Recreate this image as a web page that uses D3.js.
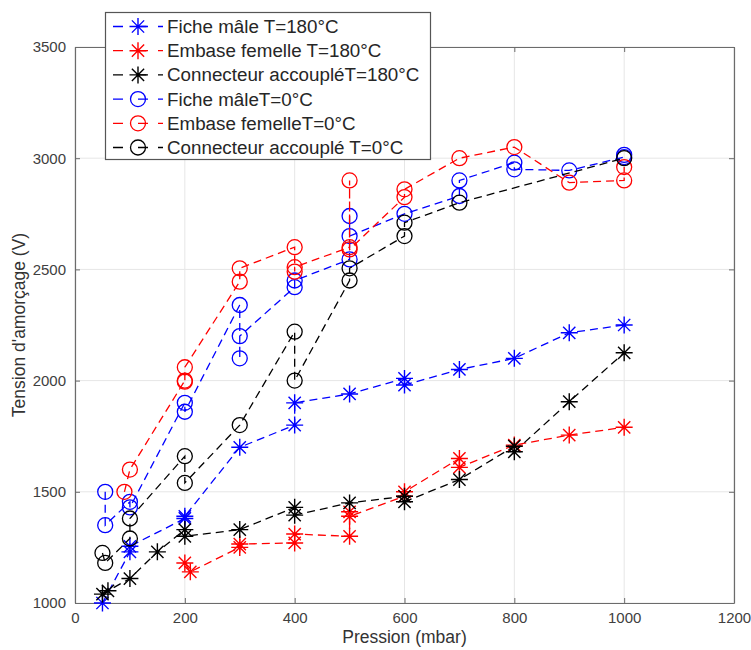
<!DOCTYPE html>
<html><head><meta charset="utf-8">
<script src="https://cdn.jsdelivr.net/npm/d3@7/dist/d3.min.js"></script>
<style>
body{margin:0;background:#fff}
text{font-family:"Liberation Sans",Arial,Helvetica,sans-serif}
</style>
</head><body>
<svg id="chart" width="751" height="650"></svg>
<script>
// ---------- data ----------
const xTicks = [0, 200, 400, 600, 800, 1000, 1200];
const yTicks = [1000, 1500, 2000, 2500, 3000, 3500];
const xLabel = "Pression (mbar)";
const yLabel = "Tension d'amorçage (V)";

const seriesNames = [
  "Fiche mâle T=180°C",
  "Embase femelle T=180°C",
  "Connecteur accoupléT=180°C",
  "Fiche mâleT=0°C",
  "Embase femelleT=0°C",
  "Connecteur accouplé T=0°C"
];
const seriesColors = ["#0000ff", "#ff0000", "#000000", "#0000ff", "#ff0000", "#000000"];
const seriesMarkers = ["star", "star", "star", "circle", "circle", "circle"];

const ficheMale180X = [50, 100, 100, 200, 200, 300, 400, 400, 500, 600, 600, 700, 800, 900, 1000];
const ficheMale180Y = [1000, 1230, 1255, 1380, 1390, 1700, 1800, 1900, 1940, 2010, 1980, 2050, 2100, 2215, 2250];

const embase180X = [200, 210, 300, 300, 400, 400, 500, 500, 500, 600, 600, 700, 700, 800, 900, 1000];
const embase180Y = [1180, 1140, 1250, 1265, 1270, 1310, 1300, 1410, 1390, 1480, 1500, 1650, 1610, 1710, 1755, 1790];

const connect180X = [50, 60, 100, 150, 200, 200, 300, 400, 400, 500, 600, 600, 700, 800, 800, 900, 1000];
const connect180Y = [1040, 1055, 1110, 1230, 1330, 1300, 1330, 1430, 1395, 1450, 1480, 1455, 1555, 1705, 1680, 1905, 2125];

const ficheMale0X = [55, 55, 100, 100, 200, 200, 300, 300, 300, 400, 400, 500, 500, 500, 600, 700, 700, 800, 800, 900, 1000, 1000];
const ficheMale0Y = [1500, 1350, 1455, 1430, 1900, 1860, 2340, 2100, 2200, 2420, 2450, 2545, 2740, 2650, 2750, 2830, 2900, 2980, 2950, 2945, 3005, 3015];

const embase0X = [90, 100, 200, 200, 200, 300, 300, 400, 400, 400, 500, 500, 500, 600, 600, 700, 800, 900, 1000, 1000];
const embase0Y = [1500, 1600, 2000, 1995, 2060, 2445, 2505, 2600, 2490, 2510, 2600, 2900, 2590, 2825, 2860, 3000, 3050, 2890, 2900, 2960];

const connect0X = [50, 55, 100, 100, 200, 200, 300, 400, 400, 500, 500, 600, 600, 700, 1000];
const connect0Y = [1225, 1180, 1290, 1380, 1660, 1540, 1800, 2220, 2000, 2450, 2505, 2650, 2710, 2800, 3000];

const seriesX = [ficheMale180X, embase180X, connect180X, ficheMale0X, embase0X, connect0X];
const seriesY = [ficheMale180Y, embase180Y, connect180Y, ficheMale0Y, embase0Y, connect0Y];

// ---------- layout ----------
const W = 751, H = 650;
const L = 75, R = 734, T = 47, B = 603;
const svg = d3.select("#chart");
svg.append("rect").attr("width", W).attr("height", H).attr("fill", "#fff");

const x = d3.scaleLinear().domain([0, 1200]).range([L, R]);
const y = d3.scaleLinear().domain([1000, 3500]).range([B, T]);

const axisColor = "#6b6b6b";
const gridColor = "#e6e6e6";

// grid
const grid = svg.append("g");
grid.selectAll(".gx").data(xTicks).join("line")
  .attr("x1", d => x(d)).attr("x2", d => x(d)).attr("y1", T).attr("y2", B)
  .attr("stroke", gridColor).attr("stroke-width", 1);
grid.selectAll(".gy").data(yTicks).join("line")
  .attr("y1", d => y(d)).attr("y2", d => y(d)).attr("x1", L).attr("x2", R)
  .attr("stroke", gridColor).attr("stroke-width", 1);

// axes
function styleAxis(g, showLabels) {
  g.select(".domain").attr("stroke", axisColor).attr("stroke-width", 1.2);
  g.selectAll(".tick line").attr("stroke", axisColor).attr("stroke-width", 1);
  g.selectAll(".tick text").attr("fill", "#404040").attr("font-size", 15)
    .attr("font-family", '"Liberation Sans",Arial,sans-serif')
    .style("display", showLabels ? null : "none");
}
svg.append("g").attr("transform", `translate(0,${B})`)
  .call(d3.axisBottom(x).tickValues(xTicks).tickSizeInner(-5).tickSizeOuter(0).tickPadding(9).tickFormat(d3.format("d")))
  .call(g => styleAxis(g, true));
svg.append("g").attr("transform", `translate(0,${T})`)
  .call(d3.axisTop(x).tickValues(xTicks).tickSizeInner(-5).tickSizeOuter(0))
  .call(g => styleAxis(g, false));
svg.append("g").attr("transform", `translate(${L},0)`)
  .call(d3.axisLeft(y).tickValues(yTicks).tickSizeInner(-5).tickSizeOuter(0).tickPadding(9).tickFormat(d3.format("d")))
  .call(g => styleAxis(g, true));
svg.append("g").attr("transform", `translate(${R},0)`)
  .call(d3.axisRight(y).tickValues(yTicks).tickSizeInner(-5).tickSizeOuter(0))
  .call(g => styleAxis(g, false));

// axis labels
svg.append("text").attr("x", (L + R) / 2).attr("y", 643).attr("text-anchor", "middle")
  .attr("font-size", 17.5).attr("fill", "#333").text(xLabel);
svg.append("text").attr("transform", `translate(25,${(T + B) / 2}) rotate(-90)`)
  .attr("text-anchor", "middle").attr("font-size", 17.5).attr("fill", "#333").text(yLabel);

// markers
function starPath(r) {
  const a = r * 0.72;
  return `M0,${-r}L0,${r}M${-r},0L${r},0M${-a},${-a}L${a},${a}M${-a},${a}L${a},${-a}`;
}
function drawMarker(g, kind, color, cx, cy) {
  if (kind === "star") {
    g.append("path").attr("d", starPath(8.5)).attr("transform", `translate(${cx},${cy})`)
      .attr("stroke", color).attr("stroke-width", 1.4).attr("fill", "none");
  } else {
    g.append("circle").attr("cx", cx).attr("cy", cy).attr("r", 7.5)
      .attr("stroke", color).attr("stroke-width", 1.3).attr("fill", "none");
  }
}

const dash = "8,5";
const plot = svg.append("g");
seriesX.forEach((xs, i) => {
  const pts = xs.map((v, j) => [v, seriesY[i][j]]);
  const g = plot.append("g");
  g.append("path").datum(pts)
    .attr("d", d3.line().x(d => x(d[0])).y(d => y(d[1])))
    .attr("fill", "none").attr("stroke", seriesColors[i]).attr("stroke-width", 1.3)
    .attr("stroke-dasharray", dash);
  pts.forEach(p => drawMarker(g, seriesMarkers[i], seriesColors[i], x(p[0]), y(p[1])));
});

// legend
const lg = svg.append("g");
lg.append("rect").attr("x", 105.5).attr("y", 12.5).attr("width", 325).attr("height", 147)
  .attr("fill", "#fff").attr("stroke", "#555").attr("stroke-width", 1.2);
seriesNames.forEach((name, i) => {
  const cy = 26.5 + i * 24.2;
  lg.append("line").attr("x1", 113).attr("x2", 163).attr("y1", cy).attr("y2", cy)
    .attr("stroke", seriesColors[i]).attr("stroke-width", 1.3).attr("stroke-dasharray", "10,15,10");
  drawMarker(lg, seriesMarkers[i], seriesColors[i], 138, cy);
  lg.append("text").attr("x", 167).attr("y", cy + 6.5).attr("font-size", 18.8).attr("fill", "#262626").text(name);
});
</script>
</body></html>
